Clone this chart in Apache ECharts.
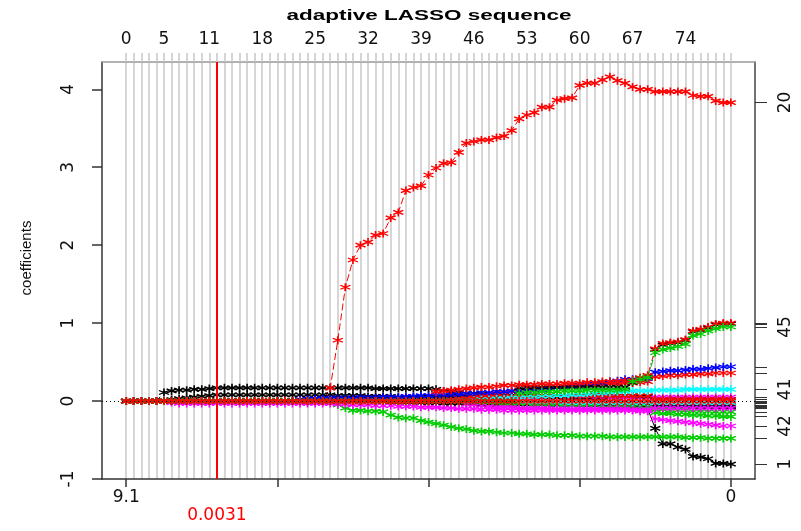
<!DOCTYPE html>
<html><head><meta charset="utf-8">
<script src="https://cdn.jsdelivr.net/npm/echarts@6/dist/echarts.min.js"></script>
<style>html,body{margin:0;padding:0;background:#fff}#c{width:801px;height:531px}</style>
</head><body><div id="c"></div>
<script>
// ---- data ----
const steps = [0,1,2,3,4,5,6,7,8,9,10,11,12,13,14,15,16,17,18,19,20,21,22,23,24,25,26,27,28,29,30,31,32,33,34,35,36,37,38,39,40,41,42,43,44,45,46,47,48,49,50,51,52,53,54,55,56,57,58,59,60,61,62,63,64,65,66,67,68,69,70,71,72,73,74,75,76,77,78,79,80];
const topLabels = [0,5,11,18,25,32,39,46,53,60,67,74];
const bottomTickSteps = [0,20,40,60,80];
const bottomLabelSteps = [0,80];
const bottomLabelText = ['9.1','0'];
const lambdaStep = 12;
const lambdaText = '0.0031';
const yTicks = [-1,0,1,2,3,4];
const labelIds = [20,45,41,42,1];

const b1 = [0,0,0,0,0,0,0,0,0,0,
 0,0,0,0,0,0,0,0,0,0,
 0,0,0,0,0,0,0,0,0,0,
 0,0,0,0,0,0,0,0,0,0,
 0,0,0,0,0,0,0,0,0,0,
 0,0,0,0,0,0,-0.02,-0.03,-0.04,-0.05,
 -0.05,-0.06,-0.06,-0.07,-0.07,-0.08,-0.08,-0.09,-0.09,-0.1,
 -0.35,-0.55,-0.55,-0.59,-0.62,-0.71,-0.72,-0.74,-0.8,-0.8,
 -0.81];
const b4 = [0,0,0,0,0,0,0,0,0,0,
 0,0,0,0,0,0,0,0,0,0,
 0,0,0,0.02,0.03,0.03,0.04,0.04,0.04,0.04,
 0.04,0.04,0.04,0.04,0.04,0.04,0.04,0.04,0.04,0.04,
 0.04,0.04,0.04,0.03,0.03,0.03,0.03,0.03,0.02,0.02,
 0.02,0.01,0,-0.01,-0.02,-0.03,-0.04,-0.05,-0.05,-0.05,
 -0.05,-0.05,-0.05,-0.05,-0.05,-0.05,-0.05,-0.05,-0.05,-0.05,
 -0.06,-0.06,-0.06,-0.06,-0.06,-0.06,-0.06,-0.06,-0.06,-0.06,
 -0.06];
const b6 = [0,0,0,0,0,0,0,0,0,0,
 0,0,0,0,0,0,0,0,0,0,
 0,0,0,0,0,0,0,0,0,0,
 0,0,0,0,0,0,0,0,0,0,
 0.01,0.01,0.02,0.02,0.02,0.03,0.03,0.03,0.03,0.03,
 0.03,0.03,0.03,0.03,0.03,0.04,0.04,0.04,0.04,0.04,
 0.04,0.04,0.04,0.04,0.04,0.04,0.04,0.04,0.04,0.04,
 0.05,0.05,0.05,0.05,0.05,0.05,0.05,0.05,0.05,0.05,
 0.05];
const b7 = [0,0,0,0,0,0.11,0.13,0.14,0.14,0.15,
 0.15,0.16,0.17,0.17,0.17,0.17,0.17,0.17,0.17,0.17,
 0.17,0.17,0.17,0.17,0.17,0.17,0.17,0.17,0.17,0.17,
 0.17,0.17,0.17,0.16,0.16,0.16,0.16,0.16,0.16,0.16,
 0.16,0.15,0.13,0.12,0.11,0.1,0.1,0.09,0.08,0.08,
 0.07,0.07,0.06,0.06,0.05,0.05,0.04,0.04,0.03,0.03,
 0.02,0.02,0.01,0.01,0,0,-0.01,-0.02,-0.03,-0.03,
 -0.06,-0.06,-0.07,-0.07,-0.07,-0.08,-0.08,-0.08,-0.08,-0.08,
 -0.08];
const b13 = [0,0,0,0,0,0,0.02,0.03,0.04,0.05,
 0.06,0.07,0.08,0.08,0.08,0.08,0.08,0.08,0.08,0.08,
 0.08,0.08,0.08,0.08,0.08,0.08,0.08,0.08,0.07,0.07,
 0.07,0.07,0.06,0.06,0.06,0.06,0.05,0.05,0.05,0.05,
 0.05,0.05,0.05,0.06,0.06,0.06,0.06,0.07,0.07,0.07,
 0.07,0.07,0.07,0.07,0.07,0.07,0.07,0.07,0.07,0.07,
 0.07,0.07,0.07,0.07,0.07,0.07,0.07,0.07,0.06,0.06,
 0.02,0.02,0.02,0.02,0.02,0.02,0.02,0.02,0.02,0.02,
 0.02];
const b15 = [0,0,0,0,0,0,0,0,0,0,
 0,0,0,0,0,0,0,0,0,0,
 0,0,0,0,0,0,0,0,0,0,
 0,0,0,0,0,0,0,0,0,0,
 0,0,0,0,0,0,0,0,0,0,
 -0.01,-0.01,-0.02,-0.02,-0.03,-0.03,-0.03,-0.04,-0.04,-0.04,
 -0.05,-0.05,-0.05,-0.06,-0.06,-0.06,-0.07,-0.07,-0.07,-0.08,
 -0.15,-0.16,-0.16,-0.17,-0.17,-0.18,-0.18,-0.19,-0.19,-0.2,
 -0.2];
const b20 = [0,0,0,0,0,0,0,0,0,0,
 0,0,0,0,0,0,0,0,0,0,
 0,0,0,0,0,0,0,0.17,0.78,1.46,
 1.81,2.0,2.04,2.13,2.15,2.35,2.42,2.70,2.74,2.76,
 2.90,2.99,3.05,3.06,3.19,3.31,3.33,3.35,3.35,3.38,
 3.40,3.47,3.62,3.67,3.70,3.77,3.77,3.86,3.88,3.89,
 4.05,4.08,4.08,4.12,4.16,4.11,4.08,4.03,4.0,4.0,
 3.97,3.97,3.97,3.97,3.97,3.92,3.91,3.91,3.85,3.83,
 3.83];
const b26 = [0,0,0,0,0,0,0,0,0,0,
 0,0,0,0,0,0,0,0,0,0,
 0,0,0,0,0,0,0,0,0,0,
 -0.01,-0.01,-0.01,-0.01,-0.01,-0.02,-0.02,-0.02,-0.02,-0.02,
 -0.02,-0.02,-0.02,-0.02,-0.02,-0.02,-0.02,-0.02,-0.02,-0.02,
 -0.02,-0.02,-0.02,-0.02,-0.02,-0.03,-0.03,-0.03,-0.03,-0.03,
 -0.03,-0.03,-0.03,-0.03,-0.03,-0.03,-0.03,-0.03,-0.03,-0.03,
 -0.03,-0.03,-0.03,-0.03,-0.03,-0.03,-0.03,-0.03,-0.03,-0.03,
 -0.03];
const b27 = [0,0,0,0,0,0,0,0,0,0,
 0,0,0,0,0,0,0,0,0,0,
 0,0,0,0,0,0,0,0,-0.05,-0.09,
 -0.12,-0.12,-0.13,-0.13,-0.14,-0.18,-0.21,-0.22,-0.22,-0.25,
 -0.27,-0.29,-0.31,-0.33,-0.35,-0.36,-0.38,-0.39,-0.39,-0.4,
 -0.41,-0.41,-0.42,-0.42,-0.43,-0.43,-0.43,-0.44,-0.44,-0.44,
 -0.45,-0.45,-0.45,-0.45,-0.46,-0.46,-0.46,-0.46,-0.46,-0.46,
 -0.46,-0.46,-0.46,-0.46,-0.47,-0.47,-0.47,-0.48,-0.48,-0.48,
 -0.48];
const b31 = [0,0,0,0,0,0,0,0,0,0,
 0,0,0,0,0,0,0,0,0,0,
 0,0,0,0,0,0,0,0,0,0,
 0,0,0,0,0,-0.01,-0.01,-0.02,-0.02,-0.02,
 -0.02,-0.02,-0.03,-0.03,-0.03,-0.03,-0.04,-0.04,-0.04,-0.04,
 -0.04,-0.04,-0.05,-0.05,-0.05,-0.05,-0.05,-0.05,-0.05,-0.05,
 -0.05,-0.05,-0.05,-0.05,-0.05,-0.06,-0.06,-0.06,-0.06,-0.06,
 -0.07,-0.07,-0.07,-0.07,-0.07,-0.07,-0.07,-0.07,-0.07,-0.07,
 -0.07];
const b32 = [0,0,0,0,0,0,0,0,0,0,
 0,0,0,0,0,0,0,0,0,0,
 0,0,0,-0.01,-0.01,-0.01,-0.01,-0.01,-0.01,-0.01,
 -0.01,-0.01,-0.01,-0.01,-0.01,-0.01,-0.01,-0.01,-0.01,-0.01,
 0,0,0.01,0.02,0.03,0.04,0.05,0.05,0.06,0.06,
 0.06,0.06,0.06,0.06,0.07,0.07,0.07,0.07,0.07,0.07,
 0.07,0.07,0.07,0.07,0.07,0.07,0.07,0.07,0.07,0.07,
 0.02,0.02,0.02,0.02,0.02,0.02,0.02,0.02,0.02,0.02,
 0.02];
const b33 = [0,0,0,0,0,0,0,0,0,0,
 0,0,0,0,0,0,0,0,0,0,
 0,0,0,0,0,0,0,0,0,0,
 0,0,0,0,0,0,0,0,0,0,
 0,0,0,0,0,-0.01,-0.01,-0.02,-0.02,-0.02,
 -0.03,-0.03,-0.03,-0.03,-0.04,-0.04,-0.04,-0.04,-0.05,-0.05,
 -0.05,-0.05,-0.05,-0.06,-0.06,-0.06,-0.06,-0.06,-0.07,-0.07,
 -0.11,-0.11,-0.12,-0.12,-0.12,-0.13,-0.13,-0.13,-0.14,-0.14,
 -0.14];
const b35 = [0,0,0,0,0,0,0,0,0,0,
 0,0,0,0,0,0,0,0,0,0,
 0,0,0,0,0,0,0,0,0,0,
 0,0,0,0,0,0,0,0,0,0,
 0,0,0,0,0,0,0,0,0,0,
 0,0,0,-0.01,-0.01,-0.01,-0.01,-0.01,-0.02,-0.02,
 -0.02,-0.02,-0.02,-0.02,-0.02,-0.02,-0.02,-0.02,-0.02,-0.02,
 -0.02,-0.02,-0.02,-0.02,-0.02,-0.02,-0.02,-0.02,-0.02,-0.02,
 -0.02];
const b36 = [0,0,0,0,0,0,0,0,0,0,
 0,0,0,0,0,0,0,0,0,0,
 0,0,0,0,0,0,0,0,0,0,
 0,0,0,0,0,0,0,0,0,0,
 0,0,0,0,0,-0.04,-0.05,-0.06,-0.07,-0.08,
 -0.08,-0.08,-0.09,-0.09,-0.09,-0.09,-0.1,-0.1,-0.1,-0.1,
 -0.1,-0.1,-0.1,-0.1,-0.1,-0.1,-0.1,-0.11,-0.11,-0.11,
 -0.09,-0.09,-0.09,-0.09,-0.09,-0.09,-0.09,-0.09,-0.09,-0.09,
 -0.09];
const b38 = [0,0,0,0,0,0,0,0,0,0,
 0,0,0,0,0,0,0,0,0,0,
 0,0,0,0,0,0,0,0,0,0,
 0,0,0,0,0,0,0,0,0,0,
 0,0,0,0,0,0.03,0.05,0.07,0.08,0.1,
 0.11,0.12,0.13,0.14,0.15,0.16,0.17,0.18,0.19,0.2,
 0.2,0.21,0.21,0.22,0.22,0.22,0.23,0.23,0.24,0.25,
 0.31,0.32,0.33,0.33,0.34,0.34,0.35,0.35,0.36,0.36,
 0.36];
const b40 = [0,0,0,0,0,0,0,0,0,0,
 0,0,0,0,0,0,0,0,0,0,
 0,0,0,0.02,0.02,0.03,0.03,0.03,0.03,0.03,
 0.03,0.04,0.04,0.04,0.05,0.05,0.05,0.06,0.06,0.07,
 0.07,0.08,0.08,0.09,0.09,0.1,0.1,0.11,0.11,0.12,
 0.12,0.13,0.13,0.14,0.14,0.15,0.16,0.17,0.18,0.19,
 0.2,0.21,0.22,0.23,0.25,0.26,0.28,0.28,0.29,0.29,
 0.37,0.38,0.39,0.39,0.4,0.41,0.41,0.42,0.43,0.44,
 0.44];
const b41 = [0,0,0,0,0,0,0,0,0,0,
 0,0,0,0,0,0,0,0,0,0,
 0,0,0,0,0,0,0,0,0,0,
 0,0,0,0,0,0,0,0,0,0,
 0,0,0,0,0,0,0.01,0.02,0.02,0.03,
 0.03,0.04,0.04,0.05,0.05,0.06,0.06,0.07,0.07,0.08,
 0.08,0.09,0.1,0.1,0.11,0.12,0.12,0.13,0.13,0.13,
 0.14,0.14,0.14,0.14,0.15,0.15,0.15,0.15,0.15,0.15,
 0.15];
const b42 = [0,0,0,0,0,0,-0.02,-0.03,-0.03,-0.03,
 -0.03,-0.03,-0.03,-0.03,-0.03,-0.03,-0.03,-0.03,-0.03,-0.03,
 -0.03,-0.03,-0.03,-0.03,-0.03,-0.03,-0.03,-0.03,-0.04,-0.04,
 -0.05,-0.05,-0.05,-0.06,-0.06,-0.06,-0.07,-0.07,-0.07,-0.08,
 -0.08,-0.08,-0.09,-0.09,-0.1,-0.1,-0.1,-0.11,-0.11,-0.11,
 -0.12,-0.12,-0.12,-0.12,-0.12,-0.12,-0.12,-0.12,-0.12,-0.12,
 -0.12,-0.12,-0.12,-0.12,-0.12,-0.12,-0.12,-0.12,-0.13,-0.13,
 -0.23,-0.24,-0.25,-0.26,-0.27,-0.28,-0.29,-0.3,-0.31,-0.32,
 -0.32];
const b43 = [0,0,0,0,0,0,0,0,0,0,
 0,0,0,0,0,0,0,0,0,0,
 0,0,0,0,0,0,0,0,0,0,
 0,0,0,0,0,0,0,0,0,0,
 0,0,0,0,0,0,0,0,0,0,
 0,0,0.17,0.18,0.18,0.18,0.18,0.18,0.18,0.18,
 0.18,0.18,0.18,0.18,0.18,0.18,0.18,0.24,0.28,0.31,
 0.66,0.72,0.74,0.75,0.78,0.89,0.91,0.94,0.98,0.99,
 0.99];
const b44 = [0,0,0,0,0,0,0,0,0,0,
 0,0,0,0,0,0,0,0,0,0,
 0,0,0,0,0,0,0,0,0,0,
 0,0,0,0,0,0,0,0,0,0,
 0,0.12,0.13,0.14,0.15,0.16,0.17,0.18,0.18,0.19,
 0.2,0.2,0.21,0.21,0.21,0.22,0.22,0.22,0.23,0.23,
 0.23,0.24,0.24,0.25,0.25,0.25,0.26,0.27,0.3,0.33,
 0.67,0.74,0.75,0.76,0.79,0.9,0.92,0.95,0.99,1.0,
 1.0];
const b45 = [0,0,0,0,0,0,0,0,0,0,
 0,0,0,0,0,0,0,0,0,0,
 0,0,0,0,0,0,0,0,0,0,
 0,0,0,0,0,0,0,0,0,0,
 0,0,0,0,0,0,0,0,0,0,
 0,0,0.1,0.11,0.11,0.12,0.12,0.12,0.13,0.13,
 0.13,0.14,0.14,0.14,0.14,0.14,0.15,0.25,0.28,0.3,
 0.62,0.66,0.68,0.7,0.73,0.84,0.86,0.9,0.93,0.95,
 0.95];
const b50 = [0,0,0,0,0,0,0,0,0,0,
 0,0,0,0,0,0,0,0,0,0,
 0,0,0,0,0,0,0,0,0,0,
 0,0,0,0,0,0,0,0,0,0,
 0,0,0,0,0,0,0,0,0,0,
 0,0,0,0,0,0,0,0,0,0,
 0,0,0,0,0,0,0,0,0,0,
 0,0,0,0,0,0,0,0,0,0,
 0];

const varIds = [1,4,6,7,13,15,20,26,27,31,32,33,35,36,38,40,41,42,43,44,45,50];
const coefs  = [b1,b4,b6,b7,b13,b15,b20,b26,b27,b31,b32,b33,b35,b36,b38,b40,b41,b42,b43,b44,b45,b50];

// ---- styling ----
const palette = ['#000000','#FF0000','#00CD00','#0000FF','#00FFFF','#FF00FF'];
const ltys = ['solid',[4,4],[1,3],[1,3,4,3],[7,3]];
const star = 'path://M5 0L5 10M0.67 2.5L9.33 7.5M0.67 7.5L9.33 2.5';
const numFont = 'DejaVu Sans';

const finals = coefs.map(a => a[a.length - 1]);
const labelVals = labelIds.map(id => finals[varIds.indexOf(id)]);

const series = varIds.map((id, i) => {
  const col = palette[(id - 1) % 6];
  return {
    type: 'line', name: String(id), xAxisIndex: 0, yAxisIndex: 0,
    data: steps.map((s, j) => [s, coefs[i][j]]),
    symbol: star, symbolSize: [10, 8], showAllSymbol: true, symbolKeepAspect: false,
    lineStyle: { color: col, width: 1, type: ltys[(id - 1) % 5] },
    itemStyle: { color: 'rgba(0,0,0,0)', borderColor: col, borderWidth: 1.5 },
    emphasis: { disabled: true }, silent: true, animation: false
  };
});
series[0].markLine = {
  silent: true, symbol: 'none', animation: false, label: { show: false },
  lineStyle: { color: '#000', type: [1, 3], width: 1 },
  data: [{ yAxis: 0 }]
};
series[series.length - 1].markLine = {
  silent: true, symbol: 'none', animation: false, label: { show: false },
  lineStyle: { color: '#FF0000', type: 'solid', width: 2 },
  data: [{ xAxis: lambdaStep }]
};

const xMin = -3.2, xMax = 83.2, yMin = -1, yMax = 4.35;

const option = {
  backgroundColor: '#fff',
  animation: false,
  grid: { left: 102, right: 46, top: 62, bottom: 52 },
  xAxis: [
    {
      type: 'value', position: 'bottom', min: xMin, max: xMax,
      axisLine: { show: true, onZero: false, lineStyle: { color: '#333', width: 1.5 } },
      axisTick: { show: true, customValues: bottomTickSteps, length: 8, lineStyle: { color: '#333', width: 1.5 } },
      axisLabel: { customValues: bottomLabelSteps, formatter: v => bottomLabelText[bottomLabelSteps.indexOf(v)], fontSize: 17, fontFamily: numFont, color: '#111', margin: 10 },
      splitLine: { show: false }
    },
    {
      type: 'value', position: 'top', min: xMin, max: xMax,
      axisLine: { show: true, onZero: false, lineStyle: { color: '#999', width: 1.5 } },
      axisTick: { show: true, customValues: steps, length: 9, lineStyle: { color: '#c8c8c8', width: 1.5 } },
      axisLabel: { customValues: topLabels, fontSize: 17, fontFamily: numFont, color: '#111', margin: 14 },
      splitLine: { show: true, lineStyle: { color: '#c8c8c8', width: 1.5 } }
    },
    {
      type: 'value', position: 'bottom', offset: 18, min: xMin, max: xMax,
      axisLine: { show: false, onZero: false }, axisTick: { show: false },
      axisLabel: { customValues: [lambdaStep], formatter: () => lambdaText, fontSize: 17, fontFamily: numFont, color: '#FF0000', margin: 10 },
      splitLine: { show: false }
    }
  ],
  yAxis: [
    {
      type: 'value', position: 'left', min: yMin, max: yMax,
      axisLine: { show: true, onZero: false, lineStyle: { color: '#333', width: 1.5 } },
      axisTick: { show: true, customValues: yTicks, length: 10, lineStyle: { color: '#333', width: 1.5 } },
      axisLabel: { customValues: yTicks, rotate: 90, fontSize: 17, fontFamily: numFont, color: '#111', margin: 25 },
      splitLine: { show: false }
    },
    {
      type: 'value', position: 'right', min: yMin, max: yMax,
      axisLine: { show: true, onZero: false, lineStyle: { color: '#444', width: 1.5 } },
      axisTick: { show: true, customValues: finals, length: 12, lineStyle: { color: '#333', width: 1 } },
      axisLabel: { customValues: labelVals, formatter: v => { const k = labelVals.indexOf(v); return k >= 0 ? String(labelIds[k]) : ''; }, rotate: 90, fontSize: 17, fontFamily: numFont, color: '#111', margin: 22 },
      splitLine: { show: false }
    }
  ],
  graphic: [
    {
      type: 'text', x: 429, y: 16, scaleX: 1.5, silent: true,
      style: { text: 'adaptive LASSO sequence', font: 'bold 15px "Liberation Sans"', fill: '#000', textAlign: 'center', textVerticalAlign: 'middle' }
    },
    {
      type: 'text', x: 27, y: 258, rotation: Math.PI / 2, silent: true,
      style: { text: 'coefficients', font: '15px "Liberation Sans"', fill: '#111', textAlign: 'center', textVerticalAlign: 'middle' }
    }
  ],
  series: series
};

const chart = echarts.init(document.getElementById('c'), null, { renderer: 'canvas' });
chart.setOption(option);
</script>
</body></html>
